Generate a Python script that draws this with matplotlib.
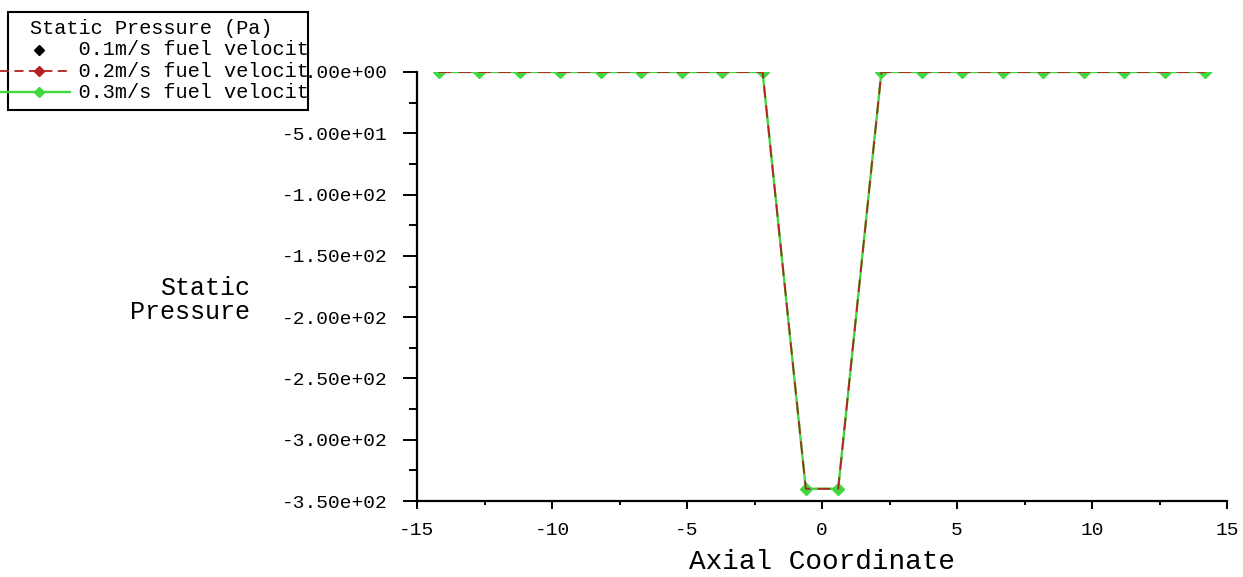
import matplotlib
matplotlib.use("Agg")
import matplotlib.pyplot as plt
from matplotlib.lines import Line2D
from matplotlib.patches import Rectangle
from matplotlib.ticker import MultipleLocator, FuncFormatter

# Data (all three velocities overlap)
axial = [-14.2, -12.7, -11.2, -9.7, -8.2, -6.7, -5.2, -3.7, -2.2, -0.6,
         0.6, 2.2, 3.7, 5.2, 6.7, 8.2, 9.7, 11.2, 12.7, 14.2]
p_01 = [0, 0, 0, 0, 0, 0, 0, 0, 0, -340, -340, 0, 0, 0, 0, 0, 0, 0, 0, 0]
p_02 = [0, 0, 0, 0, 0, 0, 0, 0, 0, -340, -340, 0, 0, 0, 0, 0, 0, 0, 0, 0]
p_03 = [0, 0, 0, 0, 0, 0, 0, 0, 0, -340, -340, 0, 0, 0, 0, 0, 0, 0, 0, 0]

legend_title = "Static Pressure (Pa)"
labels = ["0.1m/s fuel velocit", "0.2m/s fuel velocit", "0.3m/s fuel velocit"]

GREEN = "#3fd83f"
RED = "#b52020"
plt.rcParams["font.family"] = "Liberation Mono"

W, H = 1243, 577
fig = plt.figure(figsize=(W / 100, H / 100), dpi=100)
ax = fig.add_axes([417 / W, 1 - 501 / H, (1227 - 417) / W, (501 - 72) / H])

ax.plot(axial, p_01, linestyle="none", marker="D", markersize=4, color="black", zorder=2)
ax.plot(axial, p_03, color=GREEN, lw=1.7, marker="D", markersize=6, zorder=3)
ax.plot(axial, p_02, color=RED, lw=1.3, linestyle=(0, (7, 4)), zorder=4)

ax.set_xlim(-15, 15)
ax.set_ylim(-350, 0)
ax.xaxis.set_major_locator(MultipleLocator(5))
ax.xaxis.set_minor_locator(MultipleLocator(2.5))
ax.yaxis.set_major_locator(MultipleLocator(50))
ax.yaxis.set_minor_locator(MultipleLocator(25))
ax.yaxis.set_major_formatter(FuncFormatter(lambda v, p: f"{abs(v) if v == 0 else v:.2e}"))
ax.xaxis.set_major_formatter(FuncFormatter(lambda v, p: f"{int(round(v))}"))

for s in ["top", "right"]:
    ax.spines[s].set_visible(False)
for s in ["left", "bottom"]:
    ax.spines[s].set_linewidth(1.6)

ax.tick_params(axis="y", which="major", direction="out", length=10, width=1.4, pad=11, labelsize=14)
ax.tick_params(axis="y", which="minor", direction="out", length=6, width=1.4)
ax.tick_params(axis="x", which="major", direction="out", length=6, width=1.4, pad=9, labelsize=14)
ax.tick_params(axis="x", which="minor", direction="out", length=3, width=1.4)

ax.set_xlabel("Axial Coordinate", fontsize=20, labelpad=7)
fig.text(250 / W, 1 - 300 / H, "Static\nPressure", ha="right", va="center",
         fontsize=18, linespacing=1.0)

# Legend box drawn in figure pixels, on top of the clipped tick label
def fx(px):
    return px / W

def fy(py):
    return 1 - py / H

fig.patches.append(Rectangle((fx(8), fy(110)), fx(308) - fx(8), fy(12) - fy(110),
                             transform=fig.transFigure, facecolor="white",
                             edgecolor="black", lw=1.5, zorder=10))
legend_text = legend_title + "\n" + "\n".join("    " + lab for lab in labels)
fig.text(fx(30), fy(19), legend_text, ha="left", va="top", fontsize=14.6,
         linespacing=1.16, zorder=11)

rows = [50, 71, 92]
styles = [
    dict(color="black", linestyle="none", lw=1.3),
    dict(color=RED, linestyle=(0, (5, 3)), lw=1.3),
    dict(color=GREEN, linestyle="-", lw=1.7),
]
for y, st in zip(rows, styles):
    fig.lines.append(Line2D([fx(0), fx(70)], [fy(y), fy(y)], transform=fig.transFigure,
                            zorder=11, **st))
    fig.lines.append(Line2D([fx(39)], [fy(y)], transform=fig.transFigure, color=st["color"],
                            marker="D", markersize=5, linestyle="none", zorder=12))

fig.savefig("out.png", dpi=100, facecolor="white")
